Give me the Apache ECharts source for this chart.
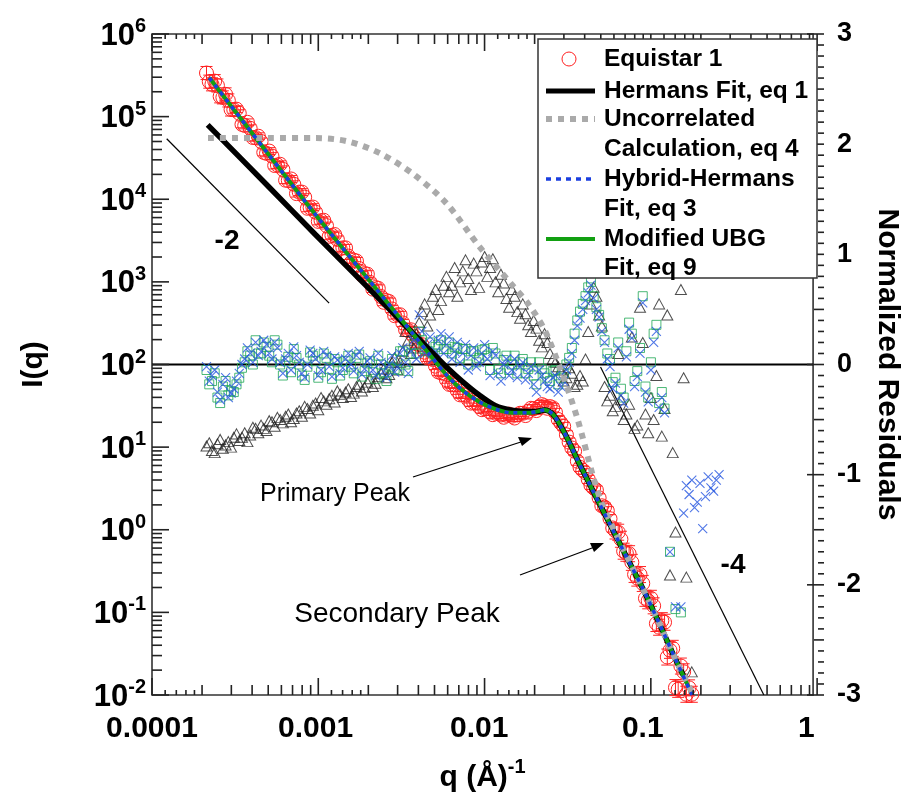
<!DOCTYPE html>
<html><head><meta charset="utf-8">
<script src="https://cdn.jsdelivr.net/npm/echarts@6/dist/echarts.min.js"></script>
<style>html,body{margin:0;padding:0;background:#fff}#c{width:910px;height:812px}</style>
</head><body><div id="c"></div>
<script>
// ---- measured data (Equistar 1) ----
const qData = [
2.154e-4,2.239e-4,2.326e-4,2.417e-4,2.512e-4,2.610e-4,2.712e-4,2.818e-4,2.929e-4,3.043e-4,3.162e-4,3.286e-4,3.415e-4,3.548e-4,3.687e-4,3.831e-4,3.981e-4,4.136e-4,4.299e-4,4.467e-4,
4.642e-4,4.823e-4,5.012e-4,5.208e-4,5.412e-4,5.623e-4,5.843e-4,6.072e-4,6.310e-4,6.556e-4,6.813e-4,7.079e-4,7.356e-4,7.644e-4,7.943e-4,8.254e-4,8.577e-4,8.913e-4,9.261e-4,9.624e-4,
1.000e-3,1.039e-3,1.080e-3,1.122e-3,1.166e-3,1.212e-3,1.259e-3,1.308e-3,1.359e-3,1.413e-3,1.468e-3,1.525e-3,1.585e-3,1.647e-3,1.711e-3,1.778e-3,1.848e-3,1.920e-3,1.995e-3,2.073e-3,
2.154e-3,2.239e-3,2.326e-3,2.417e-3,2.512e-3,2.610e-3,2.712e-3,2.818e-3,2.929e-3,3.043e-3,3.162e-3,3.286e-3,3.415e-3,3.548e-3,3.687e-3,3.831e-3,3.981e-3,4.136e-3,4.299e-3,4.467e-3,
4.642e-3,4.823e-3,5.012e-3,5.208e-3,5.412e-3,5.623e-3,5.843e-3,6.072e-3,6.310e-3,6.556e-3,6.813e-3,7.079e-3,7.356e-3,7.644e-3,7.943e-3,8.254e-3,8.577e-3,8.913e-3,9.261e-3,9.624e-3,
1.000e-2,1.039e-2,1.080e-2,1.122e-2,1.166e-2,1.212e-2,1.259e-2,1.308e-2,1.359e-2,1.413e-2,1.468e-2,1.525e-2,1.585e-2,1.647e-2,1.711e-2,1.778e-2,1.848e-2,1.920e-2,1.995e-2,2.073e-2,
2.154e-2,2.239e-2,2.326e-2,2.417e-2,2.512e-2,2.610e-2,2.712e-2,2.818e-2,2.929e-2,3.043e-2,3.162e-2,3.286e-2,3.415e-2,3.548e-2,3.687e-2,3.831e-2,3.981e-2,4.136e-2,4.299e-2,4.467e-2,
4.642e-2,4.823e-2,5.012e-2,5.208e-2,5.412e-2,5.623e-2,5.843e-2,6.072e-2,6.310e-2,6.556e-2,6.813e-2,7.079e-2,7.356e-2,7.644e-2,7.943e-2,8.254e-2,8.577e-2,8.913e-2,9.261e-2,9.624e-2,
0.1000,0.1039,0.1080,0.1122,0.1166,0.1212,0.1259,0.1308,0.1359,0.1413,0.1468,0.1525,0.1585,0.1647,0.1711,0.1778,0.1848,0.1920,0.1995,0.2073,
0.2154,0.2239,0.2326,0.2417,0.2512,0.2610,0.2712,0.2818,0.2929,0.3043,0.3162];
const iData = [
3.37e5,2.65e5,2.46e5,2.69e5,2.38e5,1.76e5,1.71e5,1.86e5,1.57e5,1.22e5,1.21e5,1.23e5,1.10e5,8.06e4,7.82e4,8.53e4,7.23e4,5.59e4,5.57e4,5.79e4,
5.00e4,3.69e4,3.59e4,3.83e4,3.33e4,2.56e4,2.60e4,2.65e4,2.30e4,1.70e4,1.69e4,1.76e4,1.52e4,1.17e4,1.22e4,1.22e4,1.06e4,7770,7890,8040,
6970,5390,5500,5570,4800,3560,3650,3740,3260,2520,2580,2580,2050,1710,1830,1790,1450,1210,1260,1240,
984,817,853,835,664,566,593,578,469,390,400,400,318,264,258,263,219,178,174,174,
141,120,119,115,95.5,81.3,79.4,78.1,65.3,57.5,56.9,56.5,47.9,42.9,43.2,42.7,37.6,34.1,34.7,34.7,
30.9,28.4,29.2,29.5,26.6,24.7,25.7,26.3,24.5,23.0,24.3,25.1,23.7,22.5,24.5,25.7,25.7,24.1,27.2,29.5,
29.2,27.7,30.9,32.7,31.6,29.5,30.9,29.9,26.3,21.6,19.5,17.8,14.1,11.5,9.77,8.91,6.76,5.69,5.25,4.90,
4.07,3.45,3.20,3.02,2.43,1.95,1.88,1.70,1.36,1.05,0.966,0.933,0.767,0.550,0.519,0.513,0.403,0.288,0.260,0.287,
0.224,0.148,0.138,0.148,0.120,0.0733,0.0661,0.0794,0.0759,0.0288,0.0347,0.0367,0.0123,0.0117,0.0224,0.0191,0.0102,0.0122,0.0102,null,
null,null,null,null,null,null,null,null,null,null,null];
const iErrFrac = [
0.2,0.2,0.2,0.2,0.2,0.2,0.2,0.2,0.2,0.2,0.1,0.1,0.1,0.1,0.1,0.1,0.1,0.1,0.1,0.1,
0.1,0.1,0.1,0.1,0.1,0.1,0.1,0.1,0.1,0.1,0.1,0.1,0.1,0.1,0.1,0.1,0.1,0.1,0.1,0.1,
0.1,0.1,0.1,0.1,0.1,0.1,0.1,0.1,0.1,0.1,0.1,0.1,0.1,0.1,0.1,0.1,0.1,0.1,0.1,0.1,
0.1,0.1,0.1,0.1,0.1,0.1,0.1,0.1,0.1,0.1,0.1,0.1,0.1,0.1,0.1,0.1,0.1,0.1,0.1,0.1,
0.1,0.1,0.1,0.1,0.1,0.1,0.1,0.1,0.1,0.1,0.1,0.1,0.1,0.1,0.1,0.1,0.1,0.1,0.1,0.1,
0.1,0.1,0.1,0.1,0.1,0.1,0.1,0.1,0.1,0.1,0.1,0.1,0.1,0.1,0.1,0.1,0.1,0.1,0.1,0.1,
0.12,0.12,0.12,0.12,0.12,0.12,0.12,0.12,0.12,0.12,0.12,0.12,0.12,0.12,0.12,0.12,0.12,0.12,0.12,0.12,
0.12,0.12,0.12,0.12,0.12,0.12,0.12,0.12,0.12,0.12,0.25,0.25,0.25,0.25,0.25,0.25,0.25,0.25,0.25,0.25,
0.25,0.25,0.25,0.25,0.25,0.25,0.25,0.25,0.25,0.25,0.25,0.25,0.25,0.25,0.25,0.25,0.25,0.25,0.25,null,
null,null,null,null,null,null,null,null,null,null,null];
// ---- normalized residuals ----
const resHermans = [
-0.74,-0.71,-0.78,-0.80,-0.72,-0.68,-0.76,-0.73,-0.70,-0.75,-0.66,-0.63,-0.69,-0.66,-0.62,-0.70,-0.64,-0.57,-0.58,-0.62,
-0.55,-0.58,-0.60,-0.51,-0.52,-0.56,-0.48,-0.50,-0.53,-0.47,-0.45,-0.52,-0.49,-0.44,-0.42,-0.47,-0.38,-0.40,-0.44,-0.37,
-0.35,-0.41,-0.30,-0.33,-0.36,-0.31,-0.28,-0.34,-0.24,-0.27,-0.30,-0.25,-0.22,-0.29,-0.26,-0.20,-0.18,-0.24,-0.21,-0.16,
-0.13,-0.20,-0.17,-0.11,-0.08,-0.04,-0.12,-0.09,0.02,0.06,-0.05,0.02,0.12,0.30,0.22,0.10,0.15,0.28,0.38,0.48,
0.55,0.35,0.45,0.62,0.68,0.50,0.58,0.72,0.80,0.66,0.72,0.88,0.62,0.75,0.85,0.95,0.78,0.68,0.92,0.85,
0.70,0.93,0.98,0.80,0.88,0.96,0.75,0.66,0.82,0.74,0.60,0.52,0.68,0.62,0.48,0.42,0.55,0.46,0.36,0.30,
0.40,0.33,0.22,0.16,0.28,0.20,0.10,0.05,0.02,-0.02,-0.05,-0.15,-0.12,-0.03,-0.08,-0.20,-0.18,-0.10,-0.15,0.05,
0.30,0.55,0.70,0.62,0.45,0.35,-0.20,-0.33,-0.28,-0.42,-0.38,0.10,-0.32,-0.50,-0.45,-0.36,0.25,-0.58,-0.55,0.52,
0.20,-0.45,-0.62,-0.30,-0.50,-0.10,0.55,-0.65,-0.40,0.45,-1.91,-0.80,-1.52,null,0.68,-0.12,-1.93,null,-2.79,null,
null,null,null,null,null,null,null,null,null,null,null];
const resHybrid = [
-0.02,-0.15,-0.10,-0.05,-0.25,-0.32,-0.18,-0.12,-0.30,-0.26,-0.22,-0.15,-0.08,0.00,0.05,0.15,0.10,0.02,0.20,0.08,
0.12,0.22,0.18,0.10,0.05,0.20,0.15,0.02,-0.08,0.05,0.10,-0.05,0.16,0.08,0.02,-0.08,-0.12,0.00,0.13,0.10,
0.05,-0.10,-0.05,0.12,0.08,-0.02,-0.11,0.07,0.04,-0.08,-0.03,0.05,0.10,0.00,-0.06,0.08,0.12,-0.09,-0.04,0.03,
0.06,-0.05,-0.10,0.10,0.02,-0.06,-0.12,0.00,0.08,-0.07,-0.02,0.10,0.15,0.02,-0.08,0.12,0.22,0.05,0.45,0.30,
0.10,0.18,0.25,0.05,0.12,0.22,0.28,0.10,0.18,0.25,0.05,0.12,0.20,0.02,0.10,0.18,-0.05,0.08,0.15,-0.02,
0.02,0.10,0.18,0.05,-0.10,0.12,0.08,-0.08,-0.15,0.00,0.05,-0.10,-0.05,0.05,-0.12,-0.02,0.02,-0.14,-0.08,-0.02,
-0.18,-0.25,-0.05,-0.10,-0.15,-0.20,-0.22,-0.12,-0.10,-0.25,-0.20,-0.15,-0.05,0.02,0.10,0.22,0.35,0.42,0.50,0.58,
0.65,0.72,0.60,0.50,0.43,0.30,0.20,0.05,-0.02,-0.22,-0.17,0.15,-0.28,-0.35,0.07,0.32,0.24,-0.20,-0.11,0.10,
0.56,-0.25,-0.34,-0.05,0.20,0.30,-0.39,-0.30,-0.44,null,-1.70,null,-2.20,null,-2.20,-1.35,-1.10,-1.18,-1.05,-1.30,
-1.25,-1.08,-1.49,-1.20,-1.02,-1.12,-1.15,-1.05,-1.00,null,null];
const resUBG = [
-0.05,-0.18,-0.15,-0.08,-0.30,-0.35,-0.20,-0.15,-0.28,-0.24,-0.25,-0.18,-0.12,-0.03,0.02,0.12,0.08,0.00,0.22,0.10,
0.10,0.20,0.16,0.08,0.02,0.22,0.18,0.00,-0.10,0.03,0.07,-0.07,0.14,0.06,0.00,-0.10,-0.14,-0.02,0.11,0.08,
0.03,-0.12,-0.07,0.10,0.06,-0.04,-0.13,0.05,0.02,-0.10,-0.05,0.03,0.08,-0.02,-0.08,0.06,0.09,-0.11,-0.06,0.01,
0.03,-0.07,-0.13,0.08,0.00,-0.08,-0.15,-0.02,0.05,-0.04,-0.05,0.12,0.12,0.00,-0.06,0.10,0.18,0.10,0.30,0.22,
0.14,0.12,0.20,0.10,0.16,0.18,0.22,0.14,0.14,0.20,0.10,0.16,0.15,0.06,0.14,0.14,0.00,0.12,0.12,0.02,
0.06,0.13,0.14,0.08,-0.05,0.15,0.10,-0.04,-0.08,0.04,0.08,-0.05,0.00,0.08,-0.08,0.02,0.05,-0.08,-0.04,0.02,
-0.10,-0.18,0.02,-0.04,-0.08,-0.12,-0.15,-0.06,-0.05,-0.18,-0.12,-0.08,0.00,0.06,0.15,0.28,0.40,0.48,0.55,0.62,
0.70,0.75,0.62,0.52,0.45,0.33,0.22,0.10,0.05,-0.16,-0.12,0.20,-0.22,-0.30,0.12,0.38,0.28,-0.15,-0.06,0.15,
0.62,-0.20,-0.30,0.02,0.28,0.36,-0.35,-0.25,-0.40,null,-1.70,null,-2.22,null,-2.25,null,null,null,null,null,
null,null,null,null,null,null,null,null,null,null,null];
// ---- model curves ----
const fitQ = [2.24e-4,5.01e-4,1.00e-3,2.00e-3,3.98e-3,5.01e-3,6.31e-3,7.94e-3,0.0100,0.0126,0.0158,0.0200,0.0224,0.0251,0.0282,0.0316,0.0355,0.0398,0.0447,0.0501,0.0631,0.0794,0.100,0.126,0.158,0.200];
const fitUBG = [295000,37600,6500,1208,229,130,75.0,48.4,35.5,28.8,26.0,26.0,26.9,28.2,25.1,17.8,11.5,7.08,4.47,2.85,1.16,0.473,0.195,0.0741,0.0275,0.0102];
const fitHybrid = [295000,37600,6500,1208,229,130,75.0,48.4,35.5,28.8,26.0,26.0,26.9,28.2,25.1,17.8,11.5,7.08,4.47,2.85,1.16,0.473,0.195,0.0741,0.0275,0.0100];
const hermQ = [2.19e-4,5.01e-4,1.00e-3,2.00e-3,3.98e-3,5.01e-3,6.31e-3,7.94e-3,0.0100,0.0126,0.0158,0.0200,0.0224,0.0251,0.0282,0.0316,0.0355,0.0398,0.0447,0.0501,0.0631,0.0794,0.100,0.126,0.158,0.178];
const fitHermans = [79400,15100,3720,933,234,148,93.3,61.7,42.7,31.6,27.9,26.9,26.9,28.2,25.1,17.8,11.5,7.08,4.47,2.85,1.16,0.473,0.195,0.0741,0.0275,0.0170];
const uncQ = [2.20e-4,5.01e-4,1.00e-3,1.58e-3,2.51e-3,3.98e-3,6.31e-3,0.0100,0.0158,0.0200,0.0251,0.0316,0.0398,0.0501,0.0562,0.0631,0.0794,0.100,0.126,0.158,0.204];
const fitUncorr = [55100,55100,55000,50100,35500,19950,8910,2690,933,537,263,85.1,22.4,4.17,2.09,1.26,0.49,0.195,0.0741,0.0275,0.0100];
// ---- power-law guide lines ----
const slope2Q = [1.23e-4,1.21e-3], slope2I = [5.4e4,553];
const slope4Q = [0.0552,0.55], slope4I = [93,0.01];
// ---- axis labels ----
const xTickLabels = ['0.0001','0.001','0.01','0.1','1'];
const yTickExps = [-2,-1,0,1,2,3,4,5,6];
const resTicks = [-3,-2,-1,0,1,2,3];

const FONT = 'Liberation Sans, Arial, sans-serif';
const chart = echarts.init(document.getElementById('c'), null, {renderer:'canvas'});
const X0 = 1e-4, X1 = 1.1, Y0 = 0.01, Y1 = 1e6;
const GL = 152, GR = 86, GT = 34, GB = 117;
const plotW = 910-GL-GR, plotH = 812-GT-GB;
const decX = plotW/Math.log10(X1/X0), decY = plotH/Math.log10(Y1/Y0), unitR = plotH/6;
const xPix = q=>GL + Math.log10(q/X0)*decX;
const yPix = v=>GT + Math.log10(Y1/v)*decY;
const rPix = r=>GT + (3-r)*unitR;

// inward tick marks on the frame
const tickEls = [];
const tk = (x1,y1,x2,y2)=>tickEls.push({type:'line', z:90, shape:{x1:x1,y1:y1,x2:x2,y2:y2}, style:{stroke:'#222', lineWidth:1.6}});
for (let d=-4; d<=0; d++){
  const b = Math.pow(10,d);
  const marks = [[b,17]];
  if (d<0){
    [1.2,1.4,1.6,1.8].forEach(m=>marks.push([m*b,5]));
    [2,3,4,5,6,7,8,9].forEach(m=>marks.push([m*b,10]));
  }
  marks.forEach(([q,len])=>{ const x = xPix(q); tk(x, GT+plotH, x, GT+plotH-len); tk(x, GT, x, GT+len); });
}
for (let e=-2; e<=6; e++){
  const b = Math.pow(10,e);
  const marks = [[b,17]];
  if (e<6) [2,3,4,5,6,7,8,9].forEach(m=>marks.push([m*b,10]));
  marks.forEach(([v,len])=>{ const y = yPix(v); tk(GL, y, GL+len, y); });
}
for (let k=-30; k<=30; k++){
  const len = (k%10===0)?17:((k%5===0)?10:6);
  const y = rPix(k/10); tk(GL+plotW, y, GL+plotW-len, y);
}

const dataPts = [];
qData.forEach((q,k)=>{ if (iData[k]!=null) dataPts.push([q, iData[k], iErrFrac[k]]); });
const pair = (xs, ys)=> xs.map((x,k)=>[x, ys[k]]);
const resPts = arr => qData.map((q,k)=>[q, arr[k]]).filter(p=>p[1]!=null);

const RED = '#ff2222';
const graphics = [
  {type:'rect', z:100, shape:{x:538,y:39,width:279,height:239}, style:{fill:'#fff', stroke:'#333', lineWidth:1.5}},
  {type:'circle', z:101, shape:{cx:569,cy:59,r:7}, style:{fill:'#fff', stroke:RED, lineWidth:1}},
  {type:'line', z:101, shape:{x1:546,y1:91,x2:595,y2:91}, style:{stroke:'#000', lineWidth:5}},
  {type:'line', z:101, shape:{x1:546,y1:119,x2:595,y2:119}, style:{stroke:'#aaaaaa', lineWidth:6, lineDash:[6,6]}},
  {type:'line', z:101, shape:{x1:546,y1:179,x2:595,y2:179}, style:{stroke:'#1a3fe0', lineWidth:3.5, lineDash:[5,5]}},
  {type:'line', z:101, shape:{x1:546,y1:239,x2:595,y2:239}, style:{stroke:'#12a012', lineWidth:4}},
  ...[['Equistar 1',59],['Hermans Fit, eq 1',91],['Uncorrelated',119],['Calculation, eq 4',149],['Hybrid-Hermans',179],['Fit, eq 3',209],['Modified UBG',239],['Fit, eq 9',268]]
    .map(([t,y])=>({type:'text', z:101, style:{text:t, x:604, y:y, textVerticalAlign:'middle', font:'bold 24.5px '+FONT, fill:'#000'}})),
  {type:'text', z:50, style:{text:'-2', x:227, y:241, textAlign:'center', textVerticalAlign:'middle', font:'bold 28px '+FONT, fill:'#000'}},
  {type:'text', z:50, style:{text:'-4', x:733, y:565, textAlign:'center', textVerticalAlign:'middle', font:'bold 28px '+FONT, fill:'#000'}},
  {type:'text', z:50, style:{text:'Primary Peak', x:335, y:494, textAlign:'center', textVerticalAlign:'middle', font:'25px '+FONT, fill:'#000'}},
  {type:'text', z:50, style:{text:'Secondary Peak', x:397, y:614, textAlign:'center', textVerticalAlign:'middle', font:'28px '+FONT, fill:'#000'}},
  {type:'line', z:50, shape:{x1:413,y1:477,x2:527,y2:440}, style:{stroke:'#000', lineWidth:1.3}},
  {type:'polygon', z:50, shape:{points:[[532,438],[518,437],[522,446]]}, style:{fill:'#000'}},
  {type:'line', z:50, shape:{x1:520,y1:575,x2:600,y2:545}, style:{stroke:'#000', lineWidth:1.3}},
  {type:'polygon', z:50, shape:{points:[[604,543],[590,543],[594,552]]}, style:{fill:'#000'}}
].concat(tickEls);

const option = {
  animation:false,
  backgroundColor:'#fff',
  grid:{left:GL, right:GR, top:GT, bottom:GB, show:true, borderColor:'#333', borderWidth:1.6, backgroundColor:'transparent'},
  xAxis:{type:'log', logBase:10, min:X0, max:X1, splitNumber:4,
    axisLine:{show:false}, axisTick:{show:false}, splitLine:{show:false},
    axisLabel:{interval:0, margin:19, color:'#000', fontSize:30, fontWeight:'bold', fontFamily:FONT,
      formatter:v=>{const l=Math.log10(v), e=Math.round(l); if(Math.abs(l-e)>1e-6) return ''; return xTickLabels[e+4]||'';}},
    name:'{b|q (Å)}{s|-1}', nameLocation:'middle', nameGap:62,
    nameTextStyle:{rich:{b:{fontSize:30,fontWeight:'bold',fontFamily:FONT,color:'#000',verticalAlign:'bottom'},
      s:{fontSize:20,fontWeight:'bold',fontFamily:FONT,color:'#000',verticalAlign:'bottom',padding:[0,0,16,0]}}}
  },
  yAxis:[
    {type:'log', logBase:10, min:Y0, max:Y1, splitNumber:8, position:'left',
      axisLine:{show:false}, axisTick:{show:false}, splitLine:{show:false},
      axisLabel:{interval:0, margin:6, formatter:v=>{const l=Math.log10(v), e=Math.round(l); if(Math.abs(l-e)>1e-6||yTickExps.indexOf(e)<0) return ''; return '{b|10}{s|'+e+'}';},
        rich:{b:{fontSize:31,fontWeight:'bold',fontFamily:FONT,color:'#000',verticalAlign:'bottom'},
          s:{fontSize:20,fontWeight:'bold',fontFamily:FONT,color:'#000',verticalAlign:'bottom',padding:[0,0,15,0]}}},
      name:'I(q)', nameLocation:'middle', nameRotate:90, nameGap:103,
      nameTextStyle:{fontSize:30,fontWeight:'bold',fontFamily:FONT,color:'#000'}
    },
    {type:'value', min:-3, max:3, interval:1, position:'right',
      axisLine:{show:false}, axisTick:{show:false}, splitLine:{show:false},
      axisLabel:{margin:24, color:'#000', fontSize:27, fontWeight:'bold', fontFamily:FONT,
        formatter:v=> resTicks.indexOf(v)>=0 ? String(v) : ''},
      name:'Normalized Residuals', nameLocation:'middle', nameRotate:-90, nameGap:50,
      nameTextStyle:{fontSize:30,fontWeight:'bold',fontFamily:FONT,color:'#000'}
    }
  ],
  series:[
    {type:'line', name:'zero', yAxisIndex:1, data:[[X0,0],[X1,0]], symbol:'none', silent:true, z:1,
      lineStyle:{color:'#000', width:2}},
    {type:'line', name:'slope -2', data:pair(slope2Q, slope2I), symbol:'none', silent:true, z:1, lineStyle:{color:'#000', width:1.2}},
    {type:'line', name:'slope -4', data:pair(slope4Q, slope4I), symbol:'none', silent:true, z:1, lineStyle:{color:'#000', width:1.2}},
    {type:'custom', name:'Equistar 1', z:2, data:dataPts, dimensions:['q','I','err'], encode:{x:0,y:1},
      renderItem:(params, api)=>{
        const q=api.value(0), I=api.value(1), e=api.value(2);
        const c=api.coord([q,I]), hi=api.coord([q,I*(1+e)]), lo=api.coord([q,I/(1+e)]);
        const st=()=>({stroke:RED, lineWidth:1});
        return {type:'group', children:[
          {type:'circle', shape:{cx:c[0],cy:c[1],r:7}, style:{stroke:RED, lineWidth:1, fill:'rgba(0,0,0,0)'}},
          {type:'line', shape:{x1:c[0],y1:hi[1],x2:c[0],y2:lo[1]}, style:st()},
          {type:'line', shape:{x1:c[0]-6,y1:hi[1],x2:c[0]+6,y2:hi[1]}, style:st()},
          {type:'line', shape:{x1:c[0]-6,y1:lo[1],x2:c[0]+6,y2:lo[1]}, style:st()}]};
      }},
    {type:'scatter', name:'Hermans residuals', yAxisIndex:1, data:resPts(resHermans), symbol:'triangle', symbolSize:[11,10], z:3,
      itemStyle:{color:'rgba(0,0,0,0)', borderColor:'#222', borderWidth:1}},
    {type:'scatter', name:'UBG residuals', yAxisIndex:1, data:resPts(resUBG), symbol:'rect', symbolSize:9, z:3,
      itemStyle:{color:'rgba(0,0,0,0)', borderColor:'#1fa855', borderWidth:1}},
    {type:'scatter', name:'Hybrid residuals', yAxisIndex:1, data:resPts(resHybrid), symbol:'path://M0,0L10,10M10,0L0,10', symbolSize:9, z:3,
      itemStyle:{color:'rgba(0,0,0,0)', borderColor:'#2455e0', borderWidth:1.1}},
    {type:'line', name:'Hermans Fit, eq 1', data:pair(hermQ, fitHermans), symbol:'none', smooth:0.3, z:4,
      lineStyle:{color:'#000', width:5.5}},
    {type:'line', name:'Modified UBG Fit, eq 9', data:pair(fitQ, fitUBG), symbol:'none', smooth:0.3, z:4,
      lineStyle:{color:'#12a012', width:4}},
    {type:'line', name:'Uncorrelated Calculation, eq 4', data:pair(uncQ, fitUncorr), symbol:'none', smooth:0.3, z:4,
      lineStyle:{color:'#aaaaaa', width:6, type:[6,6]}},
    {type:'line', name:'Hybrid-Hermans Fit, eq 3', data:pair(fitQ, fitHybrid), symbol:'none', smooth:0.3, z:5,
      lineStyle:{color:'#1a3fe0', width:3.5, type:[4,5]}}
  ],
  graphic: graphics
};
chart.setOption(option);
</script></body></html>
